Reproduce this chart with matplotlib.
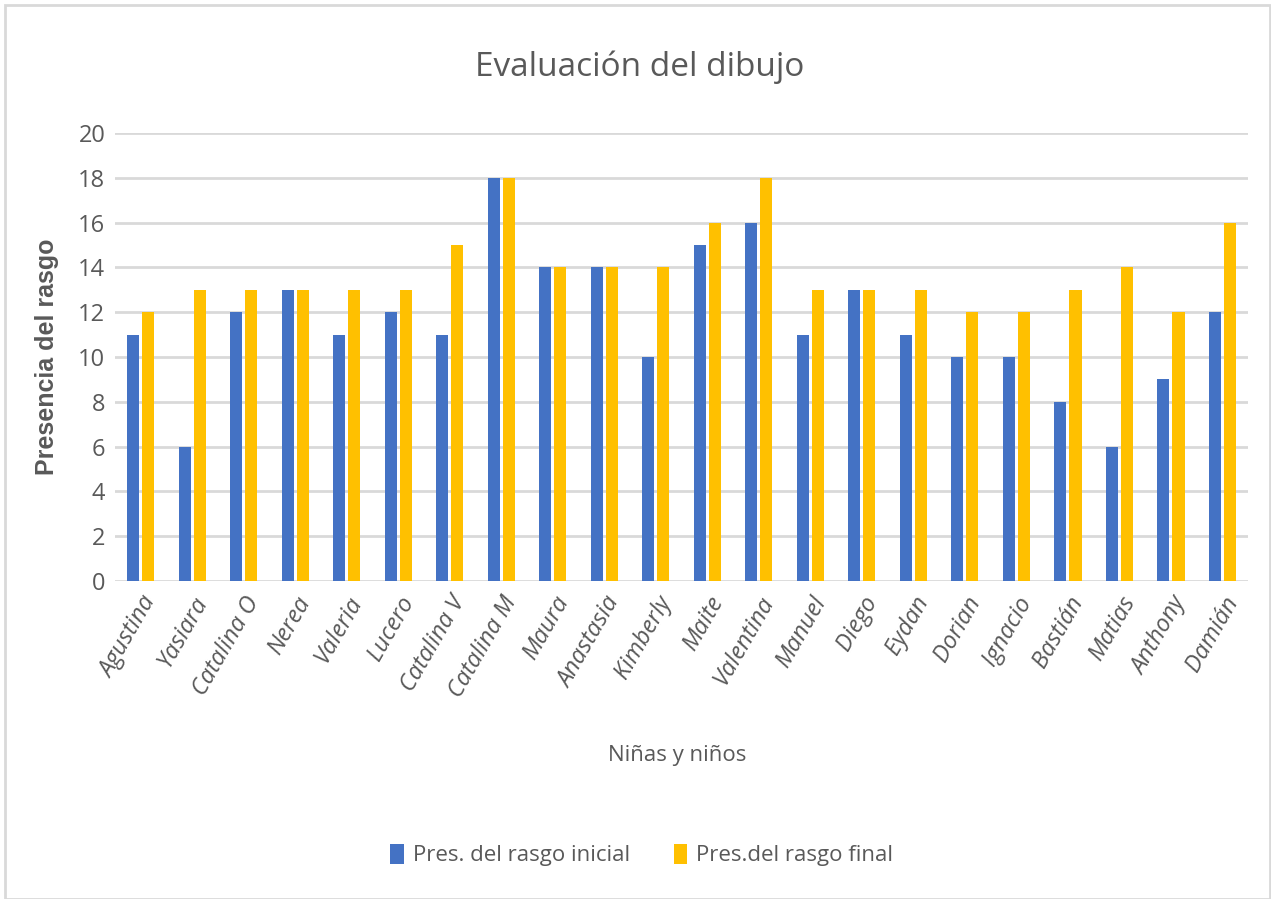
import numpy as np
import matplotlib.pyplot as plt
from matplotlib.patches import Rectangle

nombres = ['Agustina', 'Yasiara', 'Catalina O', 'Nerea', 'Valeria', 'Lucero',
           'Catalina V', 'Catalina M', 'Maura', 'Anastasia', 'Kimberly', 'Maite',
           'Valentina', 'Manuel', 'Diego', 'Eydan', 'Dorian', 'Ignacio',
           'Bastián', 'Matias', 'Anthony', 'Damián']
inicial = [11, 6, 12, 13, 11, 12, 11, 18, 14, 14, 10, 15, 16, 11, 13, 11, 10, 10, 8, 6, 9, 12]
final = [12, 13, 13, 13, 13, 13, 15, 18, 14, 14, 14, 16, 18, 13, 13, 13, 12, 12, 13, 14, 12, 16]

plt.rcParams['font.family'] = ['Open Sans', 'DejaVu Sans']
gris = '#595959'

fig = plt.figure(figsize=(12.71, 8.99), dpi=100)
ax = fig.add_axes([0.0905, 0.3537, 0.8915, 0.4983])

x = np.arange(len(nombres))
w = 0.235
ax.bar(x - w / 2 - 0.03, inicial, w, color='#4472C4', label='Pres. del rasgo inicial', zorder=3)
ax.bar(x + w / 2 + 0.03, final, w, color='#FFC000', label='Pres.del rasgo final', zorder=3)

ax.set_ylim(0, 20)
ax.set_yticks(range(0, 21, 2))
ax.set_xlim(-0.5, len(nombres) - 0.5)
ax.set_xticks(x)
ax.set_xticklabels(nombres, rotation=60, ha='right', rotation_mode='anchor',
                   style='italic', fontsize=17, color=gris)
ax.tick_params(axis='y', labelsize=17, labelcolor=gris, length=0, pad=7)
ax.tick_params(axis='x', length=0, pad=8)
ax.grid(axis='y', color='#d9d9d9', linewidth=2, zorder=0)
for s in ax.spines.values():
    s.set_visible(False)

ax.set_ylabel('Presencia del rasgo', fontsize=18, fontweight='bold', color=gris,
              family=['Liberation Sans', 'DejaVu Sans'], labelpad=14)
fig.text(0.503, 0.925, 'Evaluación del dibujo', fontsize=24, color=gris,
         ha='center', va='center')
fig.text(0.533, 0.153, 'Niñas y niños', fontsize=16, color=gris, ha='center')
fig.legend(loc='center', bbox_to_anchor=(0.505, 0.049), ncol=2, frameon=False,
           fontsize=16, labelcolor=gris, handlelength=0.6, handleheight=1.0,
           columnspacing=2.0, handletextpad=0.4)

fig.patches.append(Rectangle((0.004, 0.0), 0.995, 0.994, transform=fig.transFigure,
                             fill=False, edgecolor='#d9d9d9', linewidth=2))

fig.savefig('out.png', dpi=100)
